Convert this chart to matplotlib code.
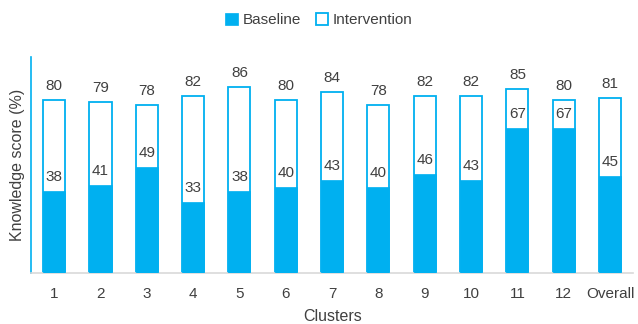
import matplotlib.pyplot as plt

clusters = ["1", "2", "3", "4", "5", "6", "7", "8", "9", "10", "11", "12", "Overall"]
baseline = [38, 41, 49, 33, 38, 40, 43, 40, 46, 43, 67, 67, 45]
intervention = [80, 79, 78, 82, 86, 80, 84, 78, 82, 82, 85, 80, 81]

blue = "#00B0F0"
txt = "#404040"
plt.rcParams['font.family'] = ['Liberation Sans', 'DejaVu Sans']

fig = plt.figure(figsize=(6.38, 3.24), dpi=100)
ax = fig.add_axes([0.0486, 0.157, 0.944, 0.667])

x = list(range(len(clusters)))
w = 0.475
ax.bar(x, intervention, w, facecolor="white", edgecolor=blue, linewidth=1.3,
       label="Intervention", zorder=2)
ax.bar(x, baseline, w, color=blue, edgecolor=blue, linewidth=0.5,
       label="Baseline", zorder=3)

for i in x:
    ax.annotate(str(intervention[i]), (i, intervention[i]), xytext=(0, 5),
                textcoords="offset points", ha="center", va="bottom",
                fontsize=11, color=txt)
    ax.annotate(str(baseline[i]), (i, baseline[i]), xytext=(0, 5),
                textcoords="offset points", ha="center", va="bottom",
                fontsize=11, color=txt, zorder=4)

ax.set_xlim(-0.5, len(clusters) - 0.5)
ax.set_ylim(0, 100)
ax.set_xticks(x)
ax.set_xticklabels(clusters, fontsize=11, color=txt)
ax.set_yticks([])
ax.tick_params(axis="x", length=0, pad=10)
for s in ["top", "right"]:
    ax.spines[s].set_visible(False)
ax.spines["left"].set_color(blue)
ax.spines["left"].set_linewidth(1.2)
ax.spines["bottom"].set_color("#d9d9d9")
ax.spines["bottom"].set_linewidth(1.2)

ax.set_xlabel("Clusters", fontsize=11.5, color=txt, labelpad=6)
ax.set_ylabel("Knowledge score (%)", fontsize=11.5, color=txt, labelpad=4)

h, l = ax.get_legend_handles_labels()
fig.legend(h[::-1], l[::-1], loc="center", bbox_to_anchor=(0.5, 0.938), ncol=2,
           frameon=False, fontsize=11, handlelength=0.8, handleheight=0.8,
           handletextpad=0.3, columnspacing=1.0, labelcolor=txt)

fig.savefig("out.png", dpi=100)
